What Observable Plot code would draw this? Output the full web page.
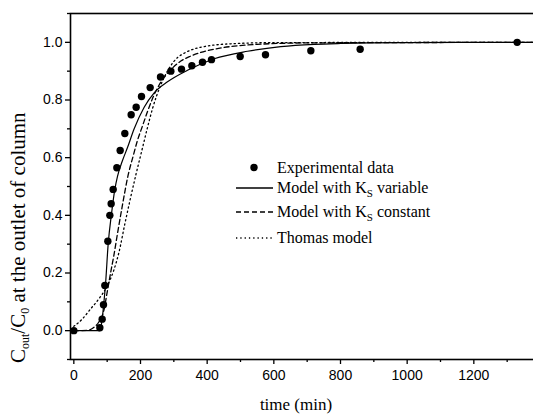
<!DOCTYPE html>
<html><head><meta charset="utf-8">
<script src="https://cdn.jsdelivr.net/npm/d3@7"></script>
<script src="https://cdn.jsdelivr.net/npm/@observablehq/plot@0.6"></script>
<style>
html,body{margin:0;padding:0;background:#fff;overflow:hidden;width:533px;height:415px}
#chart{position:relative;width:533px;height:415px;overflow:hidden}
#chart svg{max-width:none !important;}
#legend{position:absolute;left:0;top:0}
</style></head><body><div id="chart"></div>
<script>
// Experimental data
const expTime = [0,78,85,89,93,102,108,112,118,129,139,153,172,187,203,229,260,291,323,354,386,413,499,575,711,859,1330];
const expC    = [0,0.01,0.04,0.09,0.157,0.31,0.40,0.44,0.49,0.565,0.625,0.684,0.749,0.775,0.812,0.843,0.88,0.90,0.907,0.919,0.931,0.94,0.951,0.957,0.971,0.976,1.0];

// Model with Ks variable (solid)
const ksVarTime = [0,78,80,85,90,95,103,113,123,131,146,161,181,211,241,281,341,421,521,621,721,801,1000,1400];
const ksVarC    = [0,0,0.005,0.04,0.095,0.16,0.30,0.405,0.49,0.535,0.59,0.635,0.70,0.775,0.825,0.863,0.903,0.943,0.969,0.985,0.993,0.996,0.999,1.0];

// Model with Ks constant (dashed)
const ksConstTime = [0,40,61,75,91,101,111,120,130,145,163,179,191,206,221,236,260,291,321,350,381,450,550,700,1400];
const ksConstC    = [0,0.001,0.012,0.03,0.075,0.14,0.205,0.26,0.33,0.43,0.54,0.61,0.66,0.71,0.76,0.805,0.86,0.905,0.935,0.952,0.965,0.982,0.993,0.998,1.0];

// Thomas model (dotted)
const thomasTime = [0,25,50,75,100,120,135,153,170,186,203,220,236,260,301,341,381,471,600,1400];
const thomasC    = [0.015,0.04,0.075,0.11,0.155,0.21,0.27,0.37,0.46,0.54,0.62,0.70,0.77,0.85,0.935,0.968,0.983,0.995,0.999,1.0];

// Axis ticks
const xTicks = [0,200,400,600,800,1000,1200];
const xMinor = [100,300,500,700,900,1100,1300];
const yTicks = [0.0,0.2,0.4,0.6,0.8,1.0];
const yMinor = [-0.1,0.1,0.3,0.5,0.7,0.9,1.1];

const xLabel = "time (min)";
const legendNames = ["Experimental data","Model with K_S variable","Model with K_S constant","Thomas model"];

const zip = (xs, ys) => xs.map((x,i)=>({x, y: ys[i]}));
const sans = "'Liberation Sans', Arial, sans-serif";
const serif = "'Liberation Serif', 'Times New Roman', serif";

const plot = Plot.plot({
  width: 545, height: 415,
  marginLeft: 70, marginRight: 5, marginTop: 13, marginBottom: 56,
  style: {background: "white", color: "black", overflow: "visible"},
  x: {domain: [-10, 1400]},
  y: {domain: [-0.1, 1.1]},
  marks: [
    Plot.axisX({ticks: xTicks, tickSize: 5, tickPadding: 6, tickFormat: d => String(d), fontSize: 14, fontFamily: sans, label: null, strokeWidth: 1.3}),
    Plot.axisX({ticks: xMinor, tickSize: 3, tickFormat: () => "", label: null, strokeWidth: 1.3}),
    Plot.axisY({ticks: yTicks, tickSize: 5, tickPadding: 3, tickFormat: d3.format(".1f"), fontSize: 14, fontFamily: sans, label: null, strokeWidth: 1.3}),
    Plot.axisY({ticks: yMinor, tickSize: 3, tickFormat: () => "", label: null, strokeWidth: 1.3}),
    Plot.line(zip(thomasTime, thomasC), {x: "x", y: "y", curve: "monotone-x", stroke: "black", strokeWidth: 1.3, strokeDasharray: "1.3,3"}),
    Plot.line(zip(ksConstTime, ksConstC), {x: "x", y: "y", curve: "monotone-x", stroke: "black", strokeWidth: 1.3, strokeDasharray: "5,3"}),
    Plot.line(zip(ksVarTime, ksVarC), {x: "x", y: "y", curve: "monotone-x", stroke: "black", strokeWidth: 1.2}),
    Plot.dot(zip(expTime, expC), {x: "x", y: "y", r: 3.7, fill: "black", stroke: "none"}),
    Plot.frame({stroke: "black", strokeWidth: 1.6})
  ]
});
document.getElementById("chart").appendChild(plot);

const svg = d3.select(plot);
// x label
svg.append("text").attr("x", 296).attr("y", 410).attr("text-anchor", "middle")
  .attr("font-family", serif).attr("font-size", 17).attr("fill", "black").text(xLabel);
// y label with subscripts
const yl = svg.append("text").attr("transform", "translate(25,363) rotate(-90)")
  .attr("text-anchor", "start")
  .attr("font-family", serif).attr("font-size", 21).attr("fill", "black");
yl.append("tspan").text("C");
yl.append("tspan").attr("font-size", 12).attr("dy", 4).text("out");
yl.append("tspan").attr("dy", -4).text("/C");
yl.append("tspan").attr("font-size", 12).attr("dy", 4).text("0");
yl.append("tspan").attr("dy", -4).text(" at the outlet of column");

// legend
const lg = d3.select("#chart").append("svg").attr("id", "legend").attr("width", 533).attr("height", 415);
const rowY = [167.5, 188, 212, 238];
const styles = [null, "none", "5,3", "1.3,3"];
legendNames.forEach((name, i) => {
  const y = rowY[i];
  if (i === 0) {
    lg.append("circle").attr("cx", 254).attr("cy", y).attr("r", 3.7).attr("fill", "black");
  } else {
    lg.append("line").attr("x1", 236).attr("x2", 273).attr("y1", y).attr("y2", y)
      .attr("stroke", "black").attr("stroke-width", 1.3)
      .attr("stroke-dasharray", styles[i] === "none" ? null : styles[i]);
  }
  const t = lg.append("text").attr("x", 277).attr("y", y + 5)
    .attr("font-family", serif).attr("font-size", 16).attr("fill", "black");
  const parts = name.split("_S");
  if (parts.length > 1) {
    t.append("tspan").text(parts[0]);
    t.append("tspan").attr("font-size", 11).attr("dy", 4).text("S");
    t.append("tspan").attr("dy", -4).text(parts[1]);
  } else {
    t.text(name);
  }
});
</script>
</body></html>
